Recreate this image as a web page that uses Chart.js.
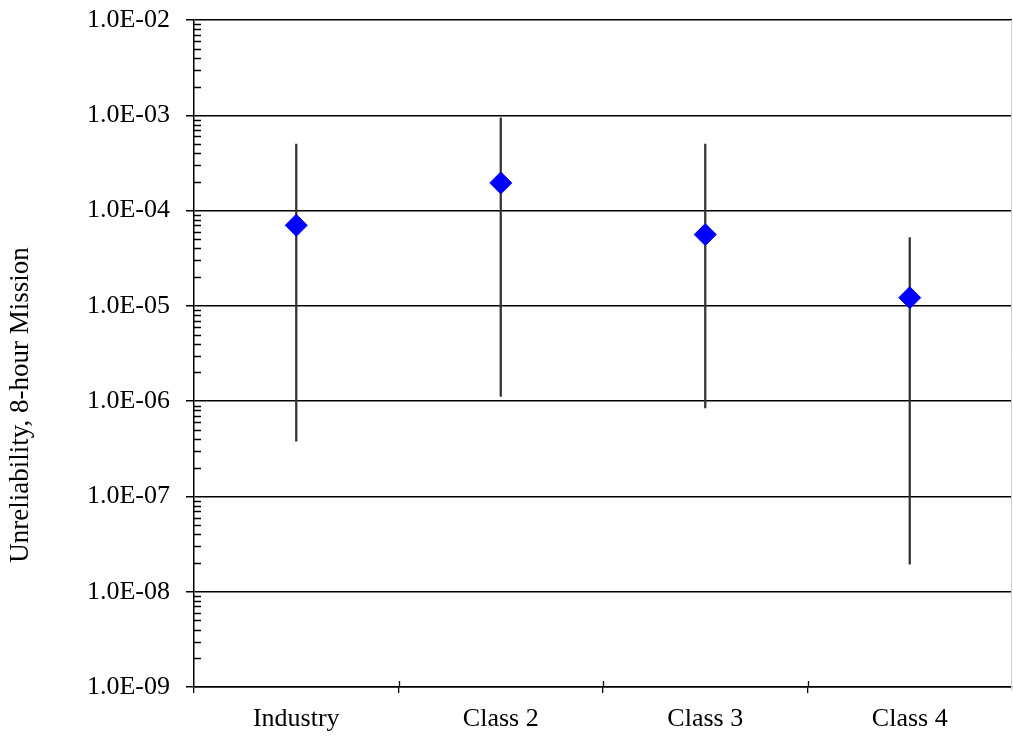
<!DOCTYPE html>
<html lang="en">
<head>
    <meta charset="UTF-8">
    <title>Unreliability, 8-hour Mission</title>
    <style>
        body { margin: 0; background: #fff; }
        #chart { display: block; }
    </style>
</head>
<body>
<canvas id="chart" width="1013" height="736"></canvas>

<script src="https://cdn.jsdelivr.net/npm/chart.js"></script>
<script>
// data
const categories = ['Industry', 'Class 2', 'Class 3', 'Class 4'];
const meanValues = [7.0e-5, 1.95e-4, 5.6e-5, 1.22e-5];
const lowerValues = [3.8e-7, 1.12e-6, 8.5e-7, 1.95e-8];
const upperValues = [5.0e-4, 9.4e-4, 5.0e-4, 5.2e-5];

// axis ticks
const decadeExponents = [-9, -8, -7, -6, -5, -4, -3, -2];
const decadeLabels = ['1.0E-09', '1.0E-08', '1.0E-07', '1.0E-06', '1.0E-05', '1.0E-04', '1.0E-03', '1.0E-02'];
const minorMultipliers = [2, 3, 4, 5, 6, 7, 8, 9];
const yTitle = 'Unreliability, 8-hour Mission';

const FAMILY = '"Liberation Serif", "Times New Roman", serif';
const FONT = { family: FAMILY, size: 26 };

// minor ticks point inwards, x ticks cross the axis, faint right edge, y title
const axisMarks = {
    id: 'axisMarks',
    afterDraw(chart) {
        const ctx = chart.ctx;
        const area = chart.chartArea;
        const y = chart.scales.y;
        const x = chart.scales.x;
        ctx.save();
        ctx.strokeStyle = '#000';
        ctx.lineWidth = 1.3;
        ctx.beginPath();
        y.ticks.forEach(t => {
            if (t.major) return;
            const py = Math.round(y.getPixelForValue(t.value)) + 0.5;
            ctx.moveTo(area.left, py);
            ctx.lineTo(area.left + 7, py);
        });
        for (let i = 0; i < categories.length - 1; i++) {
            const px = Math.round((x.getPixelForValue(i) + x.getPixelForValue(i + 1)) / 2) + 0.5;
            ctx.moveTo(px, area.bottom);
            ctx.lineTo(px, area.bottom - 6);
        }
        ctx.stroke();
        ctx.strokeStyle = '#d0d0d0';
        ctx.lineWidth = 1;
        ctx.beginPath();
        ctx.moveTo(area.right - 0.5, area.top);
        ctx.lineTo(area.right - 0.5, area.bottom + 4);
        ctx.stroke();

        // axis title sits a bit below the middle of the axis in the original
        ctx.translate(21, 405);
        ctx.rotate(-Math.PI / 2);
        ctx.fillStyle = '#000';
        ctx.font = '27px ' + FAMILY;
        ctx.textAlign = 'center';
        ctx.textBaseline = 'middle';
        ctx.fillText(yTitle, 0, 0);
        ctx.restore();
    }
};

new Chart(document.getElementById('chart'), {
    type: 'bar',
    data: {
        labels: categories,
        datasets: [
            {
                type: 'line',
                label: 'Mean',
                data: meanValues,
                showLine: false,
                pointStyle: 'rectRot',
                pointRadius: 11,
                pointBackgroundColor: '#0000ff',
                pointBorderColor: '#0000ff',
                pointBorderWidth: 1,
                order: 1
            },
            {
                label: 'Range',
                data: lowerValues.map((lo, i) => [lo, upperValues[i]]),
                backgroundColor: '#333',
                borderWidth: 0,
                barThickness: 1.6,
                order: 2
            }
        ]
    },
    options: {
        responsive: false,
        animation: false,
        devicePixelRatio: 1,
        layout: { autoPadding: false, padding: { top: 20, right: 1, left: 0, bottom: 0 } },
        plugins: {
            legend: { display: false },
            tooltip: { enabled: false }
        },
        scales: {
            x: {
                offset: true,
                grid: {
                    offset: true,
                    drawOnChartArea: false,
                    color: '#000',
                    tickColor: ctx => ctx.tick ? '#000' : 'rgba(0,0,0,0)',
                    tickLength: 6,
                    lineWidth: 1.3
                },
                border: { color: '#000', width: 1.5 },
                ticks: { color: '#000', font: FONT, padding: 11 },
                afterFit(scale) {
                    scale.height = 49;
                    scale.paddingLeft = 0;
                    scale.paddingRight = 0;
                }
            },
            y: {
                type: 'logarithmic',
                min: Math.pow(10, decadeExponents[0]),
                max: Math.pow(10, decadeExponents[decadeExponents.length - 1]),
                afterBuildTicks(scale) {
                    const ticks = [];
                    decadeExponents.forEach((e, i) => {
                        ticks.push({ value: Math.pow(10, e), major: true, label: decadeLabels[i] });
                        if (i < decadeExponents.length - 1) {
                            minorMultipliers.forEach(m => ticks.push({ value: m * Math.pow(10, e), major: false }));
                        }
                    });
                    scale.ticks = ticks;
                },
                ticks: {
                    autoSkip: false,
                    color: '#000',
                    font: FONT,
                    padding: 16,
                    callback(value, index, ticks) {
                        return ticks[index].major ? ticks[index].label : '';
                    }
                },
                grid: {
                    color: ctx => (ctx.tick && ctx.tick.major) ? '#000' : 'rgba(0,0,0,0)',
                    lineWidth: 1.5,
                    tickLength: 8
                },
                border: { color: '#000', width: 1.5 },
                afterFit(scale) {
                    scale.width = 194;
                    scale.paddingTop = 0;
                    scale.paddingBottom = 0;
                }
            }
        }
    },
    plugins: [axisMarks]
});
</script>
</body>
</html>
